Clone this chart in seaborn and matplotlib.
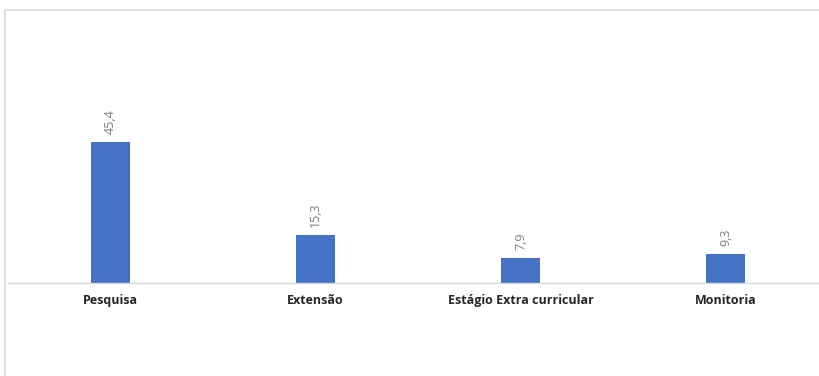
import numpy as np
import pandas as pd
import matplotlib
matplotlib.use("Agg")
import matplotlib.pyplot as plt
import seaborn as sns
from matplotlib.patches import Rectangle

# dados do gráfico
categorias = ['Pesquisa', 'Extensão', 'Estágio Extra curricular', 'Monitoria']
valores = [45.4, 15.3, 7.9, 9.3]
rotulos = ['45,4', '15,3', '7,9', '9,3']

df = pd.DataFrame({'categoria': categorias, 'valor': valores})

sns.set_theme(style='white')
plt.rcParams['font.family'] = ['Open Sans', 'DejaVu Sans']

W, H = 819, 376
fig = plt.figure(figsize=(W / 100, H / 100), dpi=100)

# moldura do gráfico
fig.patches.append(Rectangle((5 / W, -0.1), 1.2, (H - 10) / H + 0.1,
                             transform=fig.transFigure, fill=False,
                             edgecolor='#d9d9d9', linewidth=1.2))

# eixo: base em y=283, passo de 205 px por categoria
left = 7.5 / W
width = 821 / W
bottom = (H - 283) / H
height = 264 / H
ax = fig.add_axes([left, bottom, width, height])

sns.barplot(data=df, x='categoria', y='valor', color='#4472C4',
            width=0.19, saturation=1, linewidth=0, ax=ax)

ax.set_ylim(0, 85)
ax.set_xlim(-0.5, 3.5)
for s in ['top', 'right', 'left']:
    ax.spines[s].set_visible(False)
ax.spines['bottom'].set_color('#d9d9d9')
ax.spines['bottom'].set_linewidth(1)
ax.set_yticks([])
ax.set_xlabel('')
ax.set_ylabel('')
ax.tick_params(axis='x', length=0, pad=8, labelsize=9, labelcolor='#262626')
for t in ax.get_xticklabels():
    t.set_fontweight('bold')

for i, (v, r) in enumerate(zip(valores, rotulos)):
    ax.annotate(r, (i, v), xytext=(0, 6), textcoords='offset points',
                rotation=90, ha='center', va='bottom', fontsize=9,
                color='#7f7f7f')

fig.savefig('out.png', dpi=100, facecolor='white')
